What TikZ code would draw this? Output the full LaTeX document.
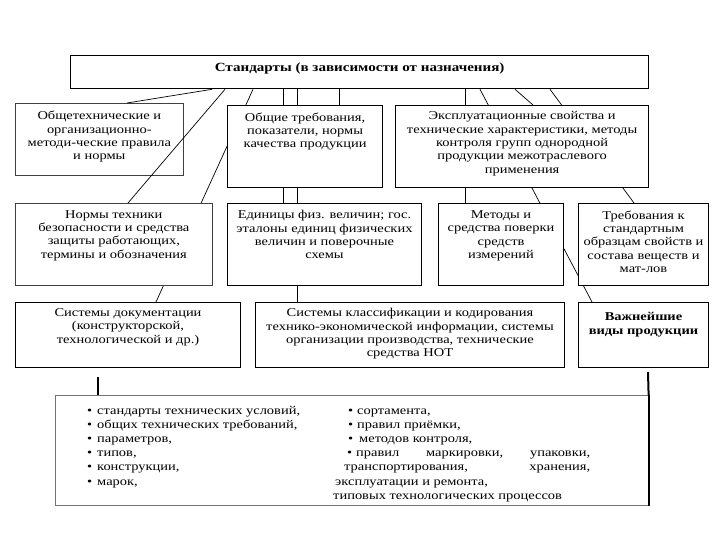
\documentclass[tikz,border=0pt]{standalone}
\usepackage{fontspec}
\setmainfont[FakeStretch=1.21]{Liberation Serif}
\usetikzlibrary{calc,backgrounds}
\newcommand{\bxt}[4]{\begin{minipage}[c][#2][t]{#1}\centering\vspace*{#3}#4\end{minipage}}
\tikzset{
  box/.style={draw=black, line width=1pt, fill=white, rectangle, anchor=north west,
    inner sep=0pt, font=\fontsize{12}{13.4}\selectfont},
  thinbox/.style={box, draw=black!75, line width=0.7pt},
  conn/.style={draw=black, line width=0.7pt},
  heavyconn/.style={draw=black, line width=2pt},
  btxt/.style={anchor=base west, inner sep=0pt, font=\fontsize{12}{14}\selectfont}
}
\begin{document}
\begin{tikzpicture}[x=1bp,y=-1bp]
\useasboundingbox (0,0) rectangle (720,540);

% boxes
\node[box, line width=1.3pt] (top) at (70,55) {\bxt{578bp}{33bp}{7bp}{\bfseries\fontsize{12.5}{14}\selectfont Стандарты (в зависимости от назначения)}};
\node[thinbox, fill=none] (A) at (15,103) {\bxt{168bp}{72bp}{8bp}{Общетехнические и\\ организационно-\\ методи-ческие правила\\ и нормы}};
\node[box, line width=1.2pt] (B) at (227,105) {\bxt{155bp}{82bp}{7bp}{Общие требования,\\ показатели, нормы\\ качества продукции}};
\node[box, line width=1.2pt] (C) at (395,105) {\bxt{253bp}{82bp}{6bp}{Эксплуатационные свойства и\\ технические характеристики, методы\\ контроля групп однородной\\ продукции межотраслевого\\ применения}};
\node[thinbox] (D) at (15,203) {\bxt{197bp}{82bp}{7bp}{Нормы техники\\ безопасности и средства\\ защиты работающих,\\ термины и обозначения}};
\node[box] (E) at (227,203) {\bxt{194bp}{82bp}{7bp}{Единицы физ. величин; гос.\\ эталоны единиц физических\\ величин и поверочные\\ схемы}};
\node[box] (F) at (438,203) {\bxt{125bp}{82bp}{7bp}{Методы и\\ средства поверки\\ средств\\ измерений}};
\node[box] (G) at (578,203) {\bxt{130bp}{82bp}{7bp}{Требования к\\ стандартным\\ образцам свойств и\\ состава веществ и\\ мат-лов}};
\node[box] (H) at (15,302) {\bxt{225bp}{65bp}{6bp}{Системы документации\\ (конструкторской,\\ технологической и др.)}};
\node[box] (I) at (255,302) {\bxt{309bp}{65bp}{6bp}{Системы классификации и кодирования\\ технико-экономической информации, системы\\ организации производства, технические\\ средства НОТ}};
\node[box] (J) at (578,302) {\bxt{130bp}{65bp}{10bp}{\bfseries Важнейшие\\ виды продукции}};
\node[draw=black!55, line width=0.6pt, rectangle, anchor=north west, inner sep=0pt,
      minimum width=593bp, minimum height=110bp] (bot) at (55,395) {};
\draw[line width=2pt] (bot.north east) -- (bot.south east);

% connectors behind boxes
\begin{scope}[on background layer]
\draw[conn] ($(top.south west)+(183,0)$) -- ($(H.north west)+(141,0)$);
\draw[conn] ($(top.south west)+(213,0)$) -- ($(E.north west)+(56,0)$);
\draw[conn] ($(top.south west)+(227,0)$) -- ($(I.north west)+(42,0)$);
\draw[conn] ($(top.south west)+(269,0)$) -- ($(B.north west)+(112,0)$);
\draw[conn] ($(top.south west)+(395,0)$) -- ($(F.north west)+(27,0)$);
\draw[conn] ($(top.south west)+(410,0)$) -- ($(J.north west)+(14,0)$);
\draw[conn] ($(top.south west)+(445,0)$) -- ($(C.north west)+(138,0)$);
\draw[conn] ($(top.south west)+(480,0)$) -- ($(G.north west)+(56,0)$);
\end{scope}
% connectors in front
\draw[conn] ($(top.south west)+(142,0)$) -- ($(A.north west)+(112,0)$);
\draw[conn] ($(top.south west)+(155,0)$) -- ($(D.north west)+(113,0)$);
\coordinate (hfree) at (98,377);
\coordinate (jfree) at (648,372);
\draw[heavyconn] (hfree) -- (hfree |- bot.north);
\draw[heavyconn] (jfree) -- (bot.north east);

% bottom list
\node[btxt] (l1) at (87,414) {\makebox[10bp][l]{\textbullet}стандарты технических условий,};
\node[btxt] (l2) at (87,428) {\makebox[10bp][l]{\textbullet}общих технических требований,};
\node[btxt] (l3) at (87,442) {\makebox[10bp][l]{\textbullet}параметров,};
\node[btxt] (l4) at (87,456) {\makebox[10bp][l]{\textbullet}типов,};
\node[btxt] (l5) at (87,470) {\makebox[10bp][l]{\textbullet}конструкции,};
\node[btxt] (l6) at (87,485) {\makebox[10bp][l]{\textbullet}марок,};
\node[btxt] (r1) at (348,414) {\makebox[9bp][l]{\textbullet}сортамента,};
\node[btxt] (r2) at (348,428) {\makebox[9bp][l]{\textbullet}правил приёмки,};
\node[btxt] (r3) at (348,442) {\makebox[11bp][l]{\textbullet}методов контроля,};
\node[btxt] (r4) at (347,456) {\hbox to 243bp{\makebox[9bp][l]{\textbullet}правил\hfill маркировки,\hfill упаковки,}};
\node[btxt] (r5) at (344,470) {\hbox to 246bp{транспортирования,\hfill хранения,}};
\node[btxt] (r6) at (335,485) {эксплуатации и ремонта,};
\node[btxt] (r7) at (333,499) {типовых технологических процессов};
\end{tikzpicture}
\end{document}
